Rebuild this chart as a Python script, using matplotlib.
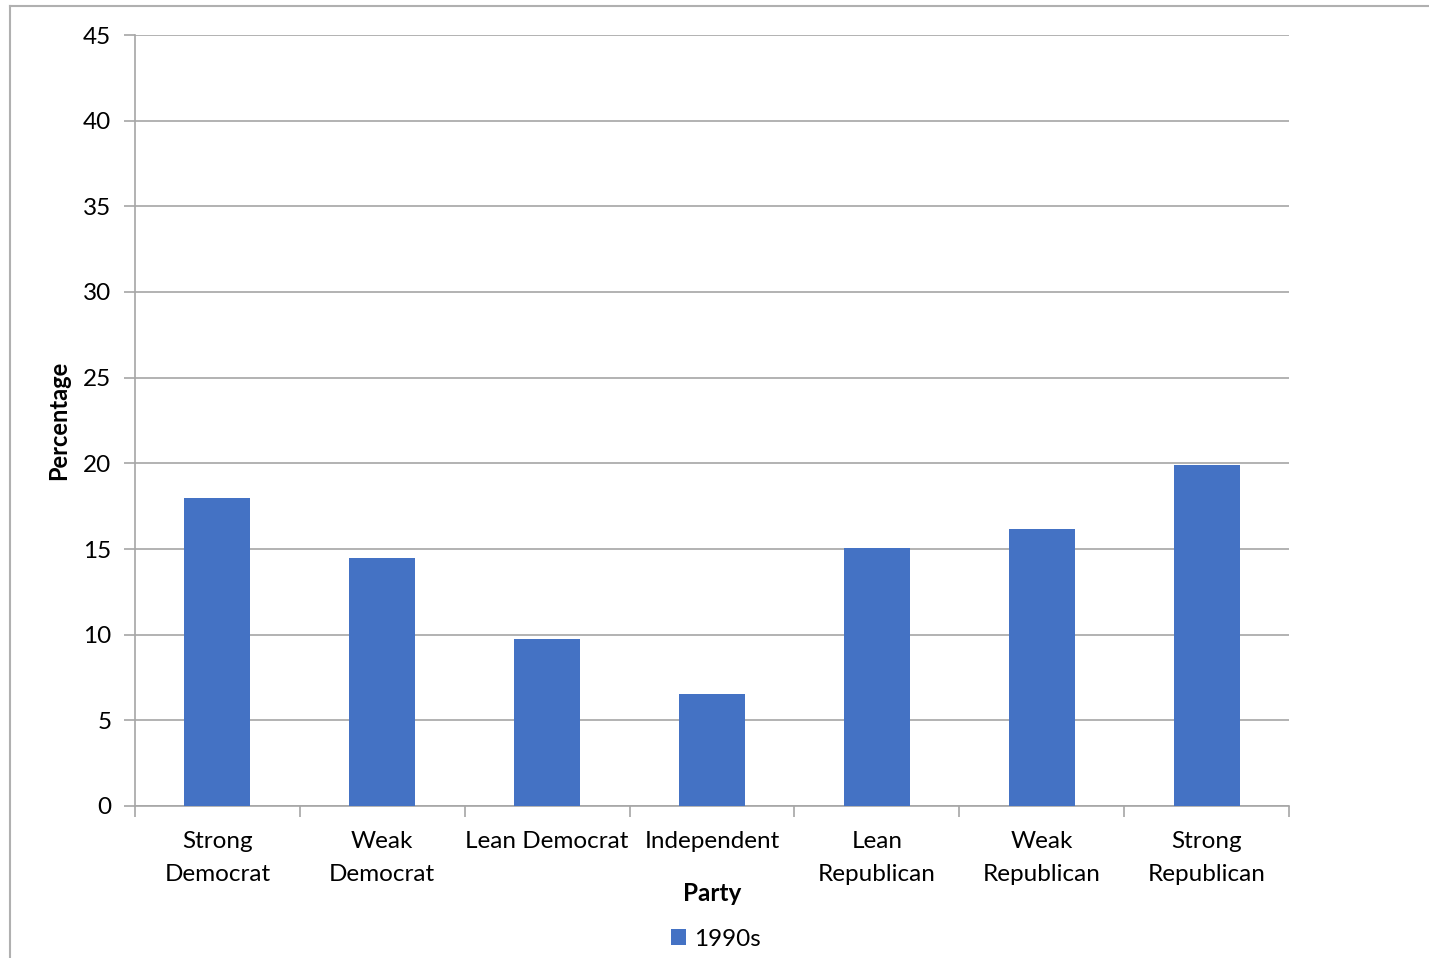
import numpy as np
import matplotlib.pyplot as plt
from matplotlib.lines import Line2D
from matplotlib.patches import Patch

plt.rcParams['font.family'] = ['Lato', 'DejaVu Sans']

# party identification shares, 1990s
parties = ["Strong\nDemocrat", "Weak\nDemocrat", "Lean Democrat", "Independent",
           "Lean\nRepublican", "Weak\nRepublican", "Strong\nRepublican"]
pct_1990s = [18.0, 14.5, 9.75, 6.55, 15.05, 16.15, 19.9]
yticks = [0, 5, 10, 15, 20, 25, 30, 35, 40, 45]

bar_color = "#4472C4"
grid_color = "#A6A6A6"

W, H = 1429, 958
fig = plt.figure(figsize=(W / 100, H / 100), dpi=100)
ax = fig.add_axes([135 / W, 1 - 806 / H, (1289 - 135) / W, (806 - 35) / H])

x = np.arange(len(parties))
ax.bar(x, pct_1990s, width=0.4, color=bar_color, zorder=3)

ax.set_xlim(-0.5, len(parties) - 0.5)
ax.set_ylim(0, 45)
ax.set_yticks(yticks)
ax.yaxis.grid(True, color=grid_color, linewidth=1.2, zorder=0)

for side in ["top", "right"]:
    ax.spines[side].set_visible(False)
for side in ["left", "bottom"]:
    ax.spines[side].set_color(grid_color)
    ax.spines[side].set_linewidth(1.2)

# category labels centred, tick marks on the category boundaries
ax.set_xticks(x)
ax.set_xticklabels(parties, fontsize=17.5, linespacing=1.7)
ax.tick_params(axis="x", length=0, pad=18)
ax.set_xticks(np.arange(len(parties) + 1) - 0.5, minor=True)
ax.tick_params(axis="x", which="minor", length=8, color=grid_color, width=1.2)
ax.tick_params(axis="y", length=8, color=grid_color, width=1.2, labelsize=17.5, pad=9)

ax.set_ylabel("Percentage", fontsize=17, fontweight="bold")
ax.yaxis.set_label_coords(-65 / (1289 - 135), 0.5)
ax.set_xlabel("Party", fontsize=17.5, fontweight="bold")
ax.xaxis.set_label_coords(0.5, -(882 - 806) / (806 - 35))

fig.legend(handles=[Patch(facecolor=bar_color, label="1990s")],
           loc="center", bbox_to_anchor=(716 / W, 1 - 939 / H),
           frameon=False, fontsize=17.5, handlelength=0.6, handleheight=0.6,
           handletextpad=0.35)

# outer chart frame
fig.add_artist(Line2D([10 / W, 1], [1 - 6 / H, 1 - 6 / H], color="#B0B0B0", linewidth=1.5))
fig.add_artist(Line2D([10 / W, 10 / W], [0, 1 - 6 / H], color="#B0B0B0", linewidth=1.5))

fig.savefig("out.png", dpi=100, facecolor="white")
